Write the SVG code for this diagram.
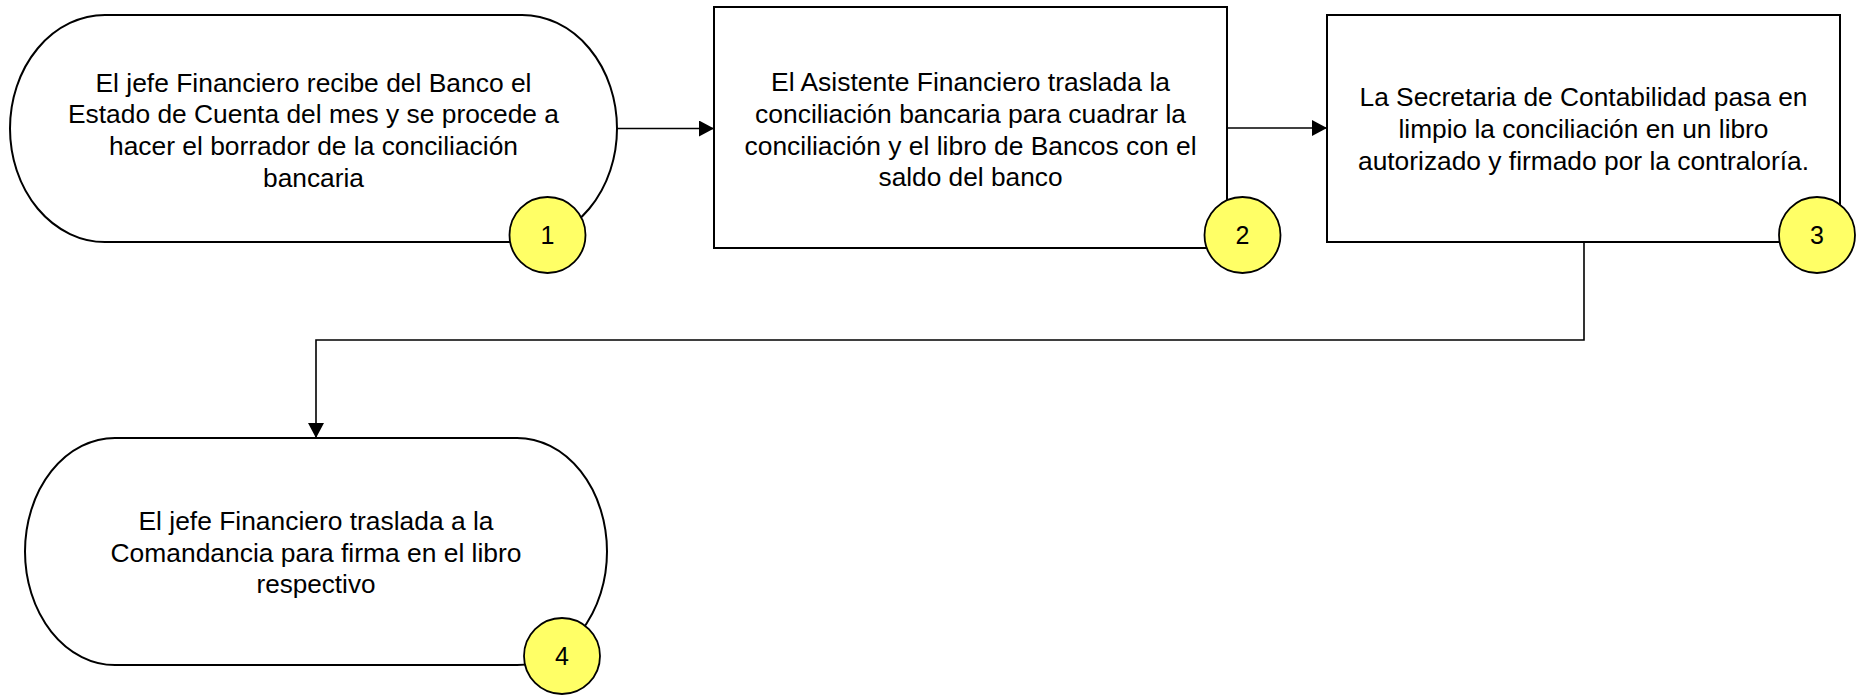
<svg xmlns="http://www.w3.org/2000/svg" width="1860" height="695" viewBox="0 0 1860 695">
<style>
.shape{fill:#ffffff;stroke:#000000;stroke-width:2}
.badge{fill:#ffff66;stroke:#000000;stroke-width:1.8}
.lbl{font-family:"Liberation Sans",Arial,sans-serif;font-size:26px;fill:#000000;text-anchor:middle}
.num{font-family:"Liberation Sans",Arial,sans-serif;font-size:25px;fill:#000000;text-anchor:middle}
.conn{fill:none;stroke:#000000;stroke-width:1.6}
</style>
<defs>
<marker id="arr" markerUnits="userSpaceOnUse" markerWidth="16" markerHeight="16" refX="15" refY="8" orient="auto">
<path d="M0,0 L15,8 L0,16 z" fill="#000000"/>
</marker>
</defs>
<rect width="1860" height="695" fill="#ffffff"/>
<g id="connectors">
<line class="conn" x1="617" y1="128.5" x2="714" y2="128.5" marker-end="url(#arr)"/>
<line class="conn" x1="1228" y1="128" x2="1327" y2="128" marker-end="url(#arr)"/>
<path class="conn" d="M1584,242 V340 H316 V438" marker-end="url(#arr)"/>
</g>
<g id="node1">
<rect class="shape" x="10" y="15" width="607" height="227" rx="95" ry="113.5"/>
<text class="lbl" x="313.5" y="91.7" textLength="436" lengthAdjust="spacingAndGlyphs">El jefe Financiero recibe del Banco el</text>
<text class="lbl" x="313.5" y="123.3" textLength="491" lengthAdjust="spacingAndGlyphs">Estado de Cuenta del mes y se procede a</text>
<text class="lbl" x="313.5" y="155" textLength="409" lengthAdjust="spacingAndGlyphs">hacer el borrador de la conciliación</text>
<text class="lbl" x="313.5" y="186.7" textLength="101" lengthAdjust="spacingAndGlyphs">bancaria</text>
<circle class="badge" cx="547.5" cy="235" r="38"/>
<text class="num" x="547.5" y="244">1</text>
</g>
<g id="node2">
<rect class="shape" x="714" y="7" width="513" height="241"/>
<text class="lbl" x="970.5" y="90.7" textLength="399" lengthAdjust="spacingAndGlyphs">El Asistente Financiero traslada la</text>
<text class="lbl" x="970.5" y="123.3" textLength="431" lengthAdjust="spacingAndGlyphs">conciliación bancaria para cuadrar la</text>
<text class="lbl" x="970.5" y="155" textLength="452" lengthAdjust="spacingAndGlyphs">conciliación y el libro de Bancos con el</text>
<text class="lbl" x="970.5" y="185.5" textLength="184" lengthAdjust="spacingAndGlyphs">saldo del banco</text>
<circle class="badge" cx="1242.5" cy="235" r="38"/>
<text class="num" x="1242.5" y="244">2</text>
</g>
<g id="node3">
<rect class="shape" x="1327" y="15" width="513" height="227"/>
<text class="lbl" x="1583.5" y="106" textLength="448" lengthAdjust="spacingAndGlyphs">La Secretaria de Contabilidad pasa en</text>
<text class="lbl" x="1583.5" y="137.7" textLength="370" lengthAdjust="spacingAndGlyphs">limpio la conciliación en un libro</text>
<text class="lbl" x="1583.5" y="169.5" textLength="451" lengthAdjust="spacingAndGlyphs">autorizado y firmado por la contraloría.</text>
<circle class="badge" cx="1817" cy="235" r="38"/>
<text class="num" x="1817" y="244">3</text>
</g>
<g id="node4">
<rect class="shape" x="25" y="438" width="582" height="227" rx="90" ry="113.5"/>
<text class="lbl" x="316" y="530" textLength="355" lengthAdjust="spacingAndGlyphs">El jefe Financiero traslada a la</text>
<text class="lbl" x="316" y="561.7" textLength="411" lengthAdjust="spacingAndGlyphs">Comandancia para firma en el libro</text>
<text class="lbl" x="316" y="593.3" textLength="119" lengthAdjust="spacingAndGlyphs">respectivo</text>
<circle class="badge" cx="562" cy="656" r="38"/>
<text class="num" x="562" y="665">4</text>
</g>
</svg>
